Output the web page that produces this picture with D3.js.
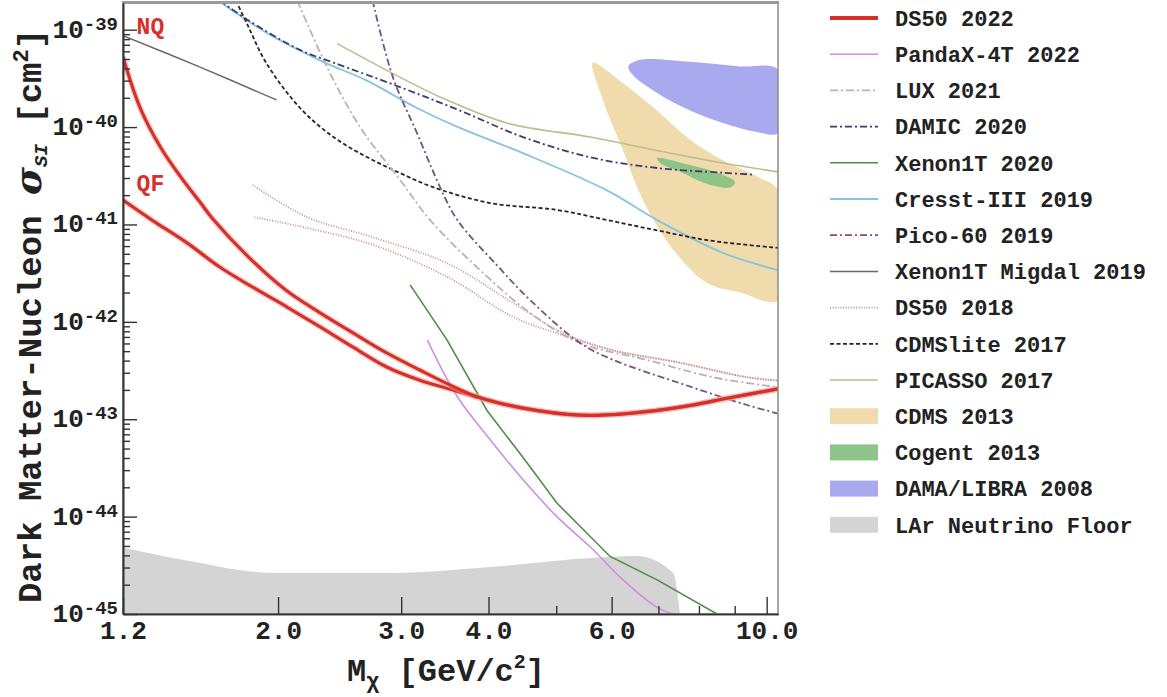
<!DOCTYPE html>
<html>
<head>
<meta charset="utf-8">
<script src="https://cdn.jsdelivr.net/npm/d3@7"></script>
<style>
  body { margin: 0; background: #fff; }
  text { font-family: "Liberation Mono", "DejaVu Sans Mono", monospace; font-weight: bold; fill: #222; white-space: pre; }
</style>
</head>
<body>
<svg id="chart"></svg>
<script>
// mass M_chi [GeV/c^2], cross section sigma_SI [cm^2]
var ds50NQ = [[1.20,5.25e-40],[1.27,1.57e-40],[1.36,6.1e-41],[1.45,3.1e-41],[1.55,1.66e-41],[1.61,1.16e-41],[1.84,4.2e-42],[2.06,2.07e-42],[2.30,1.23e-42],[2.56,7.7e-43],[2.86,4.8e-43],[3.19,3.2e-43],[3.56,2.17e-43],[3.89,1.66e-43],[4.48,1.30e-43],[5.41,1.10e-43],[6.37,1.15e-43],[7.52,1.33e-43],[8.86,1.66e-43],[10.38,2.05e-43]]
var ds50QF = [[1.20,1.78e-41],[1.32,1.11e-41],[1.48,6.5e-42],[1.65,3.66e-42],[1.84,2.27e-42],[2.06,1.42e-42],[2.30,8.85e-43],[2.56,5.5e-43],[2.86,3.44e-43],[3.19,2.52e-43],[3.56,2.0e-43],[3.89,1.66e-43],[4.48,1.30e-43],[5.41,1.10e-43],[6.37,1.15e-43],[7.52,1.33e-43],[8.86,1.66e-43],[10.38,2.05e-43]]
var pandax = [[3.27,6.5e-43],[3.61,1.70e-43],[4.02,6.2e-44],[4.48,2.4e-44],[5.01,1.0e-44],[5.59,4.9e-45],[6.23,2.24e-45],[6.97,1.17e-45],[7.35,1.0e-45]]
var lux = [[2.13,2.0e-39],[2.35,4.13e-40],[2.62,1.0e-40],[2.99,2.86e-41],[3.30,1.11e-41],[3.89,3.4e-42],[4.59,1.23e-42],[5.41,6.05e-43],[6.74,4.07e-43],[8.38,2.7e-43],[10.35,2.14e-43]]
var damic = [[1.65,2.0e-39],[1.81,1.26e-39],[2.15,6.2e-40],[2.40,4.6e-40],[2.99,2.57e-40],[3.64,1.48e-40],[4.48,7.9e-41],[5.59,4.9e-41],[6.97,3.8e-41],[8.66,3.4e-41],[9.63,3.24e-41]]
var xenon2020 = [[3.09,2.4e-42],[3.49,6.5e-43],[3.98,1.23e-43],[4.48,4.07e-44],[5.01,1.38e-44],[5.97,3.9e-45],[6.97,2.24e-45],[8.49,1.0e-45]]
var cresst = [[1.64,2.0e-39],[1.93,9.2e-40],[2.32,4.68e-40],[2.68,3.0e-40],[3.16,1.57e-40],[3.64,9.8e-41],[4.48,5.4e-41],[5.91,2.24e-41],[6.97,1.11e-41],[8.66,5.1e-42],[10.38,3.4e-42]]
var pico60 = [[2.73,2.0e-39],[2.92,3.24e-40],[3.16,8.7e-41],[3.41,2.42e-41],[3.61,1.11e-41],[4.11,3.83e-42],[4.59,1.67e-42],[5.41,6.05e-43],[6.03,4.07e-43],[7.52,2.34e-43],[9.37,1.40e-43],[10.35,1.15e-43]]
var xenonMigdal = [[1.20,8.7e-40],[1.55,4.1e-40],[1.99,1.9e-40]]
var ds50_2018a = [[1.84,2.54e-41],[2.20,1.19e-41],[2.73,7.4e-42],[3.49,4.0e-42],[4.34,1.56e-42],[5.11,7.7e-43],[6.03,5.1e-43],[7.52,3.8e-43],[9.37,2.7e-43],[10.35,2.5e-43]]
var ds50_2018b = [[1.85,1.19e-41],[2.20,9.2e-42],[2.73,6.2e-42],[3.49,2.9e-42],[4.34,1.12e-42],[5.11,7.3e-43],[6.03,5.1e-43],[7.52,3.8e-43],[9.37,2.7e-43],[10.35,2.5e-43]]
var cdmslite = [[1.74,2.0e-39],[1.81,1.11e-39],[1.92,4.65e-40],[2.15,1.57e-40],[2.40,7.9e-41],[2.68,4.92e-41],[2.99,3.37e-41],[3.33,2.42e-41],[4.02,1.66e-41],[5.01,1.41e-41],[5.91,1.11e-41],[6.97,8.7e-42],[8.22,6.9e-42],[10.38,5.75e-42]]
var picasso = [[2.43,7.2e-40],[2.99,3.24e-40],[3.41,2.04e-40],[4.25,1.10e-40],[5.59,7.9e-41],[6.97,5.75e-41],[8.66,4.27e-41],[10.38,3.47e-41]]

// filled regions: upper edge then lower edge
var cdmsUpper = [[5.64,4.57e-40],[6.23,2.82e-40],[6.97,1.48e-40],[7.77,7.4e-41],[8.66,4.57e-41],[9.69,3.1e-41],[10.38,2.24e-41]]
var cdmsLower = [[5.83,1.9e-40],[6.23,5.75e-41],[6.65,1.78e-41],[7.35,5.5e-42],[8.22,2.5e-42],[9.16,2.0e-42],[10.38,1.66e-42]]
var damaUpper = [[6.34,4.2e-40],[6.59,4.9e-40],[7.77,4.68e-40],[9.16,4.2e-40],[10.38,3.9e-40]]
var damaLower = [[6.44,3.4e-40],[6.97,2.24e-40],[7.77,1.48e-40],[8.66,1.10e-40],[9.69,8.9e-41],[10.38,8.7e-41]]
var cogentUpper = [[6.97,4.8e-41],[7.77,4.07e-41],[8.66,3.24e-41],[9.01,2.72e-41]]
var cogentLower = [[7.04,4.27e-41],[7.52,3.47e-41],[8.22,2.6e-41],[8.86,2.4e-41]]
var nuFloor = [[1.20,4.8e-45],[1.31,4.2e-45],[1.415,3.76e-45],[1.55,3.34e-45],[1.72,2.9e-45],[1.99,2.64e-45],[2.89,2.64e-45],[4.02,3.04e-45],[5.59,3.76e-45],[6.52,3.94e-45],[7.35,2.64e-45],[7.52,1.0e-45]]

var xTicksMajor = [1.2, 2, 3, 4, 6, 10]
var xTickLabels = ['1.2', '2.0', '3.0', '4.0', '6.0', '10.0']
var xTicksMinor = [5, 7, 8, 9]

var legendNames = ['DS50 2022', 'PandaX-4T 2022', 'LUX 2021', 'DAMIC 2020', 'Xenon1T 2020', 'Cresst-III 2019',
  'Pico-60 2019', 'Xenon1T Migdal 2019', 'DS50 2018', 'CDMSlite 2017', 'PICASSO 2017', 'CDMS 2013',
  'Cogent 2013', 'DAMA/LIBRA 2008', 'LAr Neutrino Floor']

var annotations = [{label: 'NQ', m: 1.255, s: 1.09e-39}, {label: 'QF', m: 1.255, s: 2.66e-41}]

// styles
var RED = '#d6302a'
var styles = {
  'DS50 2022':          {color: RED, width: 3.2},
  'PandaX-4T 2022':     {color: '#cf8fe0', width: 1.6},
  'LUX 2021':           {color: '#bcb0b6', width: 1.8, dash: '8,3,2,3'},
  'DAMIC 2020':         {color: '#3b3d72', width: 1.8, dash: '7,3,2,3'},
  'Xenon1T 2020':       {color: '#4f8f45', width: 1.6, linear: true},
  'Cresst-III 2019':    {color: '#86c6dc', width: 1.8},
  'Pico-60 2019':       {color: '#7b4f87', width: 1.8, dash: '7,3,2,3'},
  'Xenon1T Migdal 2019':{color: '#6a6a6a', width: 1.5},
  'DS50 2018':          {color: '#c99090', width: 1.8, dash: '1,1.6'},
  'CDMSlite 2017':      {color: '#262626', width: 1.8, dash: '4,2.5'},
  'PICASSO 2017':       {color: '#c0bc8c', width: 1.6},
  'CDMS 2013':          {fill: '#f0dbad'},
  'Cogent 2013':        {fill: '#8fc488'},
  'DAMA/LIBRA 2008':    {fill: '#a9a9f0'},
  'LAr Neutrino Floor': {fill: '#d4d4d4'}
}

var lineSeries = [
  ['PICASSO 2017', picasso], ['Xenon1T Migdal 2019', xenonMigdal], ['Cresst-III 2019', cresst],
  ['CDMSlite 2017', cdmslite], ['DS50 2018', ds50_2018a], ['DS50 2018', ds50_2018b],
  ['LUX 2021', lux], ['DAMIC 2020', damic], ['Pico-60 2019', pico60],
  ['Xenon1T 2020', xenon2020], ['PandaX-4T 2022', pandax],
  ['DS50 2022', ds50QF], ['DS50 2022', ds50NQ]
]

var W = 1167, H = 697
var svg = d3.select('#chart').attr('width', W).attr('height', H)

var x = d3.scaleLog().domain([1.2, 10.38]).range([123, 778])
var y = d3.scaleLog().domain([1e-45, 1.88e-39]).range([614, 3])

svg.append('clipPath').attr('id', 'clip')
  .append('rect').attr('x', 123).attr('y', 3).attr('width', 655).attr('height', 611)

var plot = svg.append('g').attr('clip-path', 'url(#clip)')

var smoothLine = d3.line().x(d => x(d[0])).y(d => y(d[1])).curve(d3.curveCatmullRom.alpha(0.5))
var straightLine = d3.line().x(d => x(d[0])).y(d => y(d[1]))
var closedLine = d3.line().x(d => x(d[0])).y(d => y(d[1])).curve(d3.curveCatmullRomClosed.alpha(0.5))

// neutrino floor
var floorArea = d3.area().x(d => x(d[0])).y0(y(1e-45)).y1(d => y(d[1])).curve(d3.curveMonotoneX)
plot.append('path').attr('d', floorArea(nuFloor)).attr('fill', styles['LAr Neutrino Floor'].fill)

function blob(upper, lower) { return upper.concat(lower.slice().reverse()) }
plot.append('path').attr('d', closedLine(blob(cdmsUpper, cdmsLower))).attr('fill', styles['CDMS 2013'].fill)
plot.append('path').attr('d', closedLine(blob(damaUpper, damaLower))).attr('fill', styles['DAMA/LIBRA 2008'].fill)
plot.append('path').attr('d', closedLine(blob(cogentUpper, cogentLower))).attr('fill', styles['Cogent 2013'].fill)

lineSeries.forEach(function(s) {
  var st = styles[s[0]]
  var gen = st.linear ? straightLine : smoothLine
  if (s[0] == 'DS50 2022') {
    // soft halo around the thick red curves
    plot.append('path').attr('d', gen(s[1])).attr('fill', 'none')
      .attr('stroke', '#f2a49c').attr('stroke-width', 6).attr('opacity', 0.5)
  }
  plot.append('path').attr('d', gen(s[1]))
    .attr('fill', 'none')
    .attr('stroke', st.color)
    .attr('stroke-width', st.width)
    .attr('stroke-dasharray', st.dash || null)
})

svg.selectAll('text.anno').data(annotations).join('text')
  .attr('class', 'anno')
  .attr('x', d => x(d.m)).attr('y', d => y(d.s)).attr('dy', '0.35em')
  .style('font-size', '23px').style('fill', RED)
  .text(d => d.label)

// frame
svg.append('rect').attr('x', 123).attr('y', 3).attr('width', 655).attr('height', 611)
  .attr('fill', 'none').attr('stroke', '#8a8a8a').attr('stroke-width', 1.5)
svg.append('line').attr('x1', 122).attr('x2', 779).attr('y1', 2.5).attr('y2', 2.5)
  .attr('stroke', '#9a9a9a').attr('stroke-width', 3)

// x axis
var xMajor = svg.append('g').attr('transform', 'translate(0,614)')
  .call(d3.axisBottom(x).tickValues(xTicksMajor).tickSize(-17).tickSizeOuter(0).tickPadding(6.5)
    .tickFormat((d, i) => xTickLabels[i]))
var xMinor = svg.append('g').attr('transform', 'translate(0,614)')
  .call(d3.axisBottom(x).tickValues(xTicksMinor).tickSize(-8).tickSizeOuter(0).tickFormat(''))

// y axis
var yAll = y.ticks()
var isDecade = d => Math.abs(Math.log10(d) - Math.round(Math.log10(d))) < 1e-6
var yMajorTicks = yAll.filter(isDecade)
var yMinorTicks = yAll.filter(d => !isDecade(d))
var yMajor = svg.append('g').attr('transform', 'translate(123,0)')
  .call(d3.axisLeft(y).tickValues(yMajorTicks).tickSize(-14).tickSizeOuter(0).tickFormat(''))
var yMinor = svg.append('g').attr('transform', 'translate(123,0)')
  .call(d3.axisLeft(y).tickValues(yMinorTicks).tickSize(-7).tickSizeOuter(0).tickFormat(''))

svg.selectAll('.domain').attr('stroke', '#333').attr('stroke-width', 1.6)
svg.selectAll('.tick line').attr('stroke', '#333').attr('stroke-width', 1.4)
xMajor.attr('font-family', null).attr('font-size', null)
xMajor.selectAll('text').style('font-size', '26px').style('fill', '#222')

var yLab = svg.selectAll('text.ytl').data(yMajorTicks).join('text')
  .attr('class', 'ytl')
  .attr('x', 118).attr('y', d => y(d) + 8)
  .attr('text-anchor', 'end')
  .style('font-size', '26px')
yLab.append('tspan').text('10')
yLab.append('tspan').text(d => '-' + Math.round(-Math.log10(d))).style('font-size', '19px').attr('dy', -8)

// axis titles
var xl = svg.append('text').attr('x', 446).attr('y', 681).attr('text-anchor', 'middle').style('font-size', '32px')
xl.append('tspan').text('M')
xl.append('tspan').text('χ').style('font-size', '22px').attr('dy', 7)
xl.append('tspan').text(' [GeV/c').attr('dy', -7)
xl.append('tspan').text('2').style('font-size', '20px').attr('dy', -13)
xl.append('tspan').text(']').attr('dy', 13)

var yl = svg.append('text').attr('transform', 'translate(41,316) rotate(-90)')
  .attr('text-anchor', 'middle').style('font-size', '34px')
yl.append('tspan').text('Dark Matter-Nucleon ')
yl.append('tspan').text('σ').style('font-family', 'DejaVu Serif').style('font-style', 'italic').style('font-size', '38px')
yl.append('tspan').text('SI').style('font-size', '19px').style('font-style', 'italic').attr('dy', 6)
yl.append('tspan').text(' [cm').attr('dy', -6)
yl.append('tspan').text('2').style('font-size', '22px').attr('dy', -13)
yl.append('tspan').text(']').attr('dy', 13)

// legend
var legend = svg.append('g')
var rows = legend.selectAll('g').data(legendNames).join('g')
  .attr('transform', (d, i) => 'translate(0,' + (18 + i * 36.2) + ')')
rows.each(function(name) {
  var g = d3.select(this), st = styles[name]
  if (st.fill) {
    g.append('rect').attr('x', 830).attr('y', -8).attr('width', 48).attr('height', 16).attr('fill', st.fill)
  } else {
    g.append('line').attr('x1', 830).attr('x2', 878)
      .attr('stroke', st.color).attr('stroke-width', name == 'DS50 2022' ? 4 : st.width)
      .attr('stroke-dasharray', st.dash || null)
  }
})
rows.append('text').attr('x', 895).attr('dy', '0.35em').style('font-size', '22px').text(d => d)
</script>
</body>
</html>
